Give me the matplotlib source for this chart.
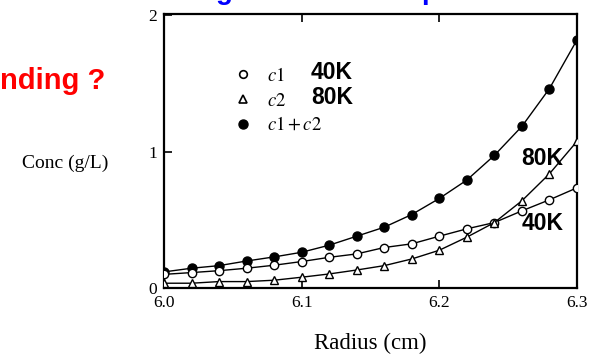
import numpy as np
import matplotlib.pyplot as plt
from matplotlib.lines import Line2D

plt.rcParams['mathtext.fontset'] = 'stix'

radius = [6.00, 6.02, 6.04, 6.06, 6.08, 6.10, 6.12, 6.14,
          6.16, 6.18, 6.20, 6.22, 6.24, 6.26, 6.28, 6.30]
c1 = [0.10, 0.113, 0.127, 0.145, 0.167, 0.194, 0.225, 0.25,
      0.297, 0.324, 0.38, 0.434, 0.48, 0.566, 0.647, 0.735]
c2 = [0.035, 0.035, 0.047, 0.047, 0.057, 0.079, 0.103, 0.132,
      0.164, 0.213, 0.277, 0.373, 0.48, 0.64, 0.838, 1.076]
c12 = [0.118, 0.145, 0.164, 0.198, 0.228, 0.262, 0.314, 0.38,
       0.446, 0.539, 0.657, 0.792, 0.973, 1.186, 1.463, 1.82]

fig = plt.figure(figsize=(5.97, 3.57), dpi=100)
ax = fig.add_axes([0.2747, 0.1933, 0.6918, 0.7675])

ax.plot(radius, c12, '-', color='black', lw=1.0, marker='o', ms=6.5,
        mfc='black', mec='black', zorder=3)
ax.plot(radius, c1, '-', color='black', lw=1.0, marker='o', ms=6,
        mfc='white', mec='black', mew=1.0, zorder=4)
ax.plot(radius, c2, '-', color='black', lw=1.0, marker='^', ms=6,
        mfc='white', mec='black', mew=1.0, zorder=4)

ax.set_xlim(6.0, 6.3)
ax.set_ylim(0, 2.01)
ax.set_xticks([6.0, 6.1, 6.2, 6.3])
ax.set_xticklabels(['6.0', '6.1', '6.2', '6.3'])
ax.set_yticks([0, 1, 2])
ax.set_yticklabels(['0', '1', '2'])
ax.tick_params(direction='in', length=6, width=1.2, top=True, right=False,
               pad=5)
for lab in ax.get_xticklabels() + ax.get_yticklabels():
    lab.set_family('Liberation Serif')
    lab.set_fontsize(12.5)
for s in ax.spines.values():
    s.set_linewidth(1.6)

ax.set_xlabel('Radius (cm)', family='Liberation Serif', fontsize=16.5, labelpad=16)
fig.text(0.037, 0.543, 'Conc (g/L)', family='Liberation Serif', fontsize=14,
         va='center', ha='left')

handles = [
    Line2D([], [], ls='none', marker='o', ms=5.5, mfc='white', mec='black', mew=1.2),
    Line2D([], [], ls='none', marker='^', ms=5.5, mfc='white', mec='black', mew=1.2),
    Line2D([], [], ls='none', marker='o', ms=6.5, mfc='black', mec='black'),
]
ax.legend(handles, ['$c1$', '$c2$', '$c1+c2$'], loc='upper left',
          bbox_to_anchor=(0.123, 0.872), frameon=False, fontsize=13.5,
          handletextpad=0.7, labelspacing=0.3, handlelength=1.2)

bold = dict(family='Liberation Sans', fontweight='bold', fontsize=16.5)
fig.text(0.521, 0.797, '40K', va='center', **bold)
fig.text(0.521, 0.728, '80K', va='center', **bold)
fig.text(0.873, 0.557, '80K', va='center', **bold)
fig.text(0.873, 0.373, '40K', va='center', **bold)

fig.text(0.0, 0.772, 'nding ?', color='red', family='Liberation Sans',
         fontweight='bold', fontsize=21, va='center', ha='left')
fig.text(0.362, 1.0 + 1 / 357, 'g', color='blue', family='Liberation Sans',
         fontweight='bold', fontsize=20, va='baseline', ha='left')
fig.text(0.705, 1.0 + 1 / 357, 'p', color='blue', family='Liberation Sans',
         fontweight='bold', fontsize=20, va='baseline', ha='left')

fig.savefig('out.png', dpi=100)
